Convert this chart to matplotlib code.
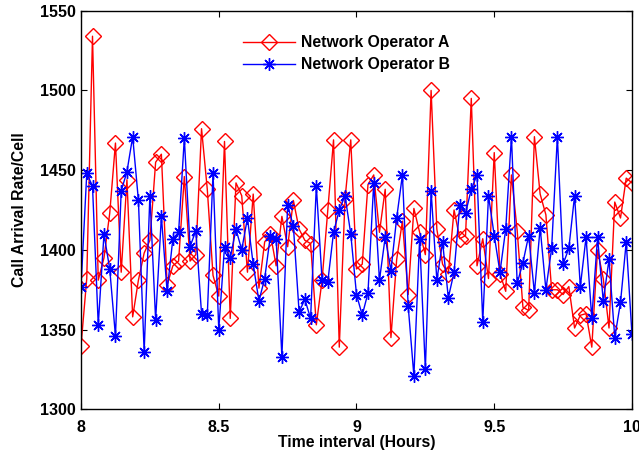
import numpy as np
import matplotlib
matplotlib.use("Agg")
import matplotlib.pyplot as plt

# Time axis: 97 samples between 8 and 10 hours
t_start, t_end, n_pts = 8.0, 10.0, 97

operator_a = [1340, 1382, 1534, 1381, 1395, 1423, 1467, 1386, 1444, 1358,
              1381, 1398, 1406, 1455, 1460, 1378, 1390, 1393, 1446, 1393,
              1397, 1476, 1438, 1384, 1371, 1468, 1357, 1442, 1434, 1386,
              1435, 1376, 1405, 1410, 1390, 1421, 1402, 1431, 1413, 1406,
              1404, 1353, 1381, 1425, 1469, 1339, 1432, 1469, 1388, 1391,
              1441, 1447, 1411, 1438, 1345, 1394, 1418, 1372, 1426, 1411,
              1397, 1500, 1413, 1391, 1385, 1425, 1407, 1409, 1495, 1390,
              1407, 1382, 1461, 1385, 1374, 1447, 1412, 1364, 1362, 1471,
              1435, 1422, 1375, 1375, 1372, 1377, 1351, 1359, 1360, 1339,
              1400, 1382, 1351, 1430, 1420, 1445, 1442]

operator_b = [1377, 1448, 1440, 1353, 1410, 1388, 1346, 1437, 1449, 1471,
              1431, 1336, 1434, 1356, 1421, 1374, 1407, 1411, 1470, 1402,
              1412, 1360, 1359, 1448, 1350, 1402, 1395, 1413, 1400, 1420,
              1391, 1368, 1382, 1409, 1407, 1333, 1428, 1415, 1361, 1369,
              1357, 1440, 1381, 1380, 1411, 1425, 1434, 1410, 1372, 1359,
              1373, 1442, 1381, 1408, 1387, 1420, 1447, 1365, 1321, 1407,
              1325, 1437, 1381, 1405, 1370, 1386, 1428, 1423, 1438, 1447,
              1355, 1434, 1409, 1386, 1413, 1471, 1379, 1392, 1409, 1373,
              1414, 1375, 1401, 1471, 1391, 1401, 1434, 1377, 1408, 1357,
              1408, 1368, 1394, 1345, 1367, 1405, 1347]

x_ticks = [8, 8.5, 9, 9.5, 10]
x_tick_labels = ["8", "8.5", "9", "9.5", "10"]
y_ticks = [1300, 1350, 1400, 1450, 1500, 1550]

t = np.linspace(t_start, t_end, n_pts)

plt.rcParams['font.family'] = ['Liberation Sans', 'DejaVu Sans']

fig = plt.figure(figsize=(6.39, 4.54), dpi=100)
ax = fig.add_axes([0.1268, 0.0984, 0.8622, 0.878])

ax.plot(t, operator_a, color='#ff0000', lw=1.0, marker='D', ms=8,
        mfc='none', mec='#ff0000', mew=1.0, label='Network Operator A')
ax.plot(t, operator_b, color='#0000ff', lw=1.0, marker=(8, 2, 0), ms=9,
        mec='#0000ff', mew=1.0, label='Network Operator B')

ax.set_xlim(8, 10)
ax.set_ylim(1300, 1550)
ax.set_xticks(x_ticks)
ax.set_xticklabels(x_tick_labels)
ax.set_yticks(y_ticks)
ax.tick_params(direction='in', top=True, right=True, length=4, width=0.8,
               labelsize=11.5)
ax.tick_params(axis='x', pad=8)
ax.tick_params(axis='y', pad=4)
for lab in ax.get_xticklabels() + ax.get_yticklabels():
    lab.set_fontweight('bold')
for s in ax.spines.values():
    s.set_linewidth(1.0)

ax.set_xlabel('Time interval (Hours)', fontsize=11.3, fontweight='bold', labelpad=0)
ax.set_ylabel('Call Arrival Rate/Cell', fontsize=11.3, fontweight='bold', labelpad=9)

leg = ax.legend(loc='upper left', bbox_to_anchor=(0.294, 0.938), frameon=False,
                prop={'size': 11.3, 'weight': 'bold'}, handlelength=3.3,
                handletextpad=0.4, labelspacing=0.42, borderpad=0,
                borderaxespad=0)

fig.savefig('out.png', dpi=100)
